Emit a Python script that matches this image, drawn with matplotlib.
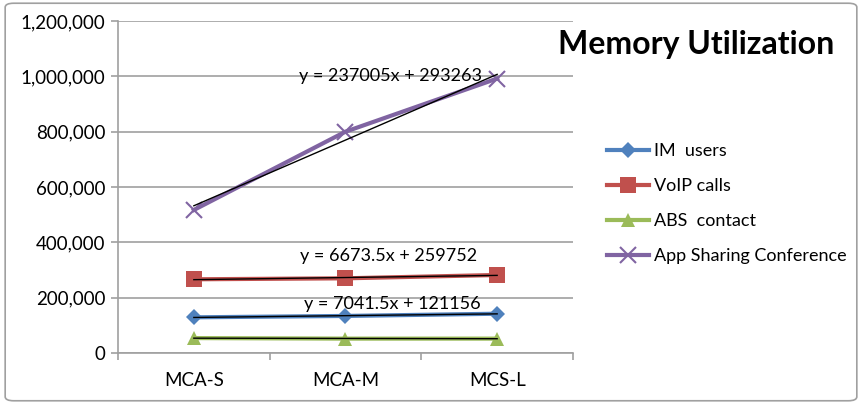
import numpy as np
import matplotlib
matplotlib.use("Agg")
import matplotlib.pyplot as plt
from matplotlib.patches import FancyBboxPatch
from matplotlib.ticker import FuncFormatter, FixedLocator

plt.rcParams['font.family'] = ['Lato', 'DejaVu Sans']

categories = ["MCA-S", "MCA-M", "MCS-L"]
im_users = [129000, 134000, 142000]
voip_calls = [266500, 270000, 282000]
abs_contact = [54000, 52000, 52000]
app_sharing = [517000, 800000, 992000]
equations = ["y = 7041.5x + 121156", "y = 6673.5x + 259752", None, "y = 237005x + 293263"]
names = ["IM  users", "VoIP calls", "ABS  contact", "App Sharing Conference"]

colors = ["#4F81BD", "#C0504D", "#9BBB59", "#8064A2"]
markers = ["D", "s", "^", "x"]
msizes = [8, 11, 10, 11]
# where each equation label sits (axes fraction)
eq_pos = [(0.603, 0.148), (0.594, 0.292), None, (0.598, 0.834)]

fig = plt.figure(figsize=(8.62, 4.04), dpi=100)
ax = fig.add_axes([0.1369, 0.1262, 0.5278, 0.8218])

x = np.arange(1, len(categories) + 1)
series = [im_users, voip_calls, abs_contact, app_sharing]
for vals, c, m, ms, name, eq, pos in zip(series, colors, markers, msizes, names, equations, eq_pos):
    ax.plot(x, vals, color=c, lw=3, marker=m, markersize=ms,
            markeredgewidth=1.5 if m == "x" else 0, label=name, zorder=3)
    k, b = np.polyfit(x, vals, 1)
    ax.plot(x, k * x + b, color="black", lw=1, zorder=4)
    if eq:
        ax.text(pos[0], pos[1], eq, transform=ax.transAxes, ha="center",
                va="center", fontsize=13, zorder=5)

ax.set_xlim(0.5, 3.5)
ax.set_ylim(0, 1200000)
ax.set_yticks(np.arange(0, 1200001, 200000))
ax.yaxis.set_major_formatter(FuncFormatter(lambda v, p: f"{int(v):,}"))
ax.yaxis.grid(True, color="#A0A0A0", lw=1.2)
ax.set_axisbelow(True)

ax.set_xticks(x)
ax.set_xticklabels(categories)
ax.xaxis.set_minor_locator(FixedLocator([0.5, 1.5, 2.5, 3.5]))
ax.tick_params(axis="x", which="major", length=0, pad=14, labelsize=13.5)
ax.tick_params(axis="x", which="minor", length=5, color="#A0A0A0", width=1.2)
ax.tick_params(axis="y", length=5, color="#A0A0A0", width=1.2, labelsize=13.5, pad=4)

for s in ["top", "right"]:
    ax.spines[s].set_visible(False)
for s in ["left", "bottom"]:
    ax.spines[s].set_color("#A0A0A0")
    ax.spines[s].set_linewidth(1.2)

fig.text(0.808, 0.889, "Memory Utilization", fontsize=23, fontweight="bold",
         ha="center", va="center")

ax.legend(loc="center left", bbox_to_anchor=(1.04, 0.45), frameon=False,
          fontsize=13, labelspacing=1.05, handlelength=2.3, handletextpad=0.3)

fig.patches.append(FancyBboxPatch((0.006, 0.008), 0.988, 0.984,
                                  boxstyle="round,pad=0,rounding_size=0.01",
                                  transform=fig.transFigure, fill=False,
                                  edgecolor="#A0A0A0", lw=1.2))

fig.savefig("out.png", dpi=100)
